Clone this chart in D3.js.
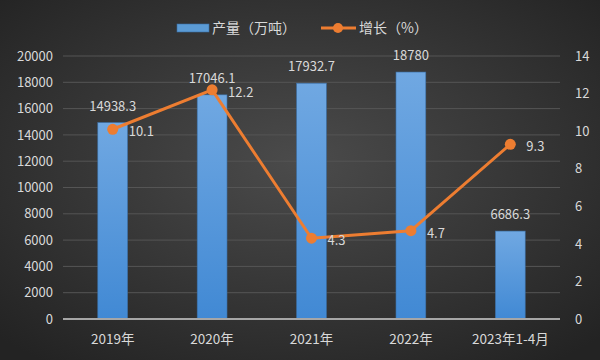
<!DOCTYPE html>
<html><head><meta charset="utf-8">
<script src="https://cdn.jsdelivr.net/npm/d3@7"></script>
<style>html,body{margin:0;padding:0;background:#2a2a2a;}svg{display:block;}</style>
</head><body>
<svg id="chart" width="600" height="360"></svg>
<script>
const categories = ["2019年", "2020年", "2021年", "2022年", "2023年1-4月"];
const output = [14938.3, 17046.1, 17932.7, 18780, 6686.3];
const growth = [10.1, 12.2, 4.3, 4.7, 9.3];
const leftTicks = [0, 2000, 4000, 6000, 8000, 10000, 12000, 14000, 16000, 18000, 20000];
const rightTicks = [0, 2, 4, 6, 8, 10, 12, 14];
const seriesNames = ["产量（万吨）", "增长（%）"];

const W = 600, H = 360;
const m = {left: 63, right: 40, top: 56, bottom: 41};
const svg = d3.select("#chart");
const font = "'Noto Sans CJK SC', 'Noto Sans', sans-serif";

const defs = svg.append("defs");
const bg = defs.append("radialGradient").attr("id", "bg").attr("cx", "50%").attr("cy", "45%").attr("r", "70%");
bg.append("stop").attr("offset", "0%").attr("stop-color", "#4b4b4b");
bg.append("stop").attr("offset", "100%").attr("stop-color", "#232323");
const bar = defs.append("linearGradient").attr("id", "bar").attr("x1", 0).attr("y1", 0).attr("x2", 0).attr("y2", 1);
bar.append("stop").attr("offset", "0%").attr("stop-color", "#70a8e2");
bar.append("stop").attr("offset", "100%").attr("stop-color", "#4189d4");

svg.append("rect").attr("width", W).attr("height", H).attr("fill", "url(#bg)");

const x = d3.scaleBand().domain(categories).range([m.left, W - m.right]).paddingInner(0.7).paddingOuter(0.35);
const yL = d3.scaleLinear().domain([0, 20000]).range([H - m.bottom, m.top]);
const yR = d3.scaleLinear().domain([0, 14]).range([H - m.bottom, m.top]);
const cx = d => x(d) + x.bandwidth() / 2;

// grid
svg.append("g").selectAll("line").data(leftTicks.slice(1)).join("line")
  .attr("x1", m.left).attr("x2", W - m.right)
  .attr("y1", d => yL(d)).attr("y2", d => yL(d))
  .attr("stroke", "#555555").attr("stroke-width", 1);

// left axis
const gL = svg.append("g").attr("transform", `translate(${m.left},0)`)
  .call(d3.axisLeft(yL).tickValues(leftTicks).tickSize(0).tickPadding(10).tickFormat(d3.format("d")));
gL.select(".domain").remove();
gL.selectAll("text").attr("fill", "#d9d9d9").style("font-size", "13px").style("font-family", font);

// right axis
const gR = svg.append("g").attr("transform", `translate(${W - m.right},0)`)
  .call(d3.axisRight(yR).tickValues(rightTicks).tickSize(0).tickPadding(15));
gR.select(".domain").remove();
gR.selectAll("text").attr("fill", "#d9d9d9").style("font-size", "13px").style("font-family", font);

// bars
svg.append("g").selectAll("rect").data(output).join("rect")
  .attr("x", (d, i) => x(categories[i]))
  .attr("y", d => yL(d))
  .attr("width", x.bandwidth())
  .attr("height", d => yL(0) - yL(d))
  .attr("fill", "url(#bar)")
  .attr("stroke", "#3b6fa6").attr("stroke-width", 0.6);

// baseline
svg.append("line").attr("x1", m.left).attr("x2", W - m.right)
  .attr("y1", yL(0)).attr("y2", yL(0)).attr("stroke", "#a6a6a6").attr("stroke-width", 2);

// bottom axis
const gB = svg.append("g").attr("transform", `translate(0,${H - m.bottom})`)
  .call(d3.axisBottom(x).tickSize(0).tickPadding(15));
gB.select(".domain").remove();
gB.selectAll("text").attr("fill", "#d9d9d9").style("font-size", "13.5px").style("font-family", font);

// bar labels
svg.append("g").selectAll("text").data(output).join("text")
  .attr("x", (d, i) => cx(categories[i]))
  .attr("y", d => yL(d) - 12)
  .attr("text-anchor", "middle")
  .attr("fill", "#d9d9d9").style("font-size", "13px").style("font-family", font)
  .text(d => d);

// line
const line = d3.line().x((d, i) => cx(categories[i])).y(d => yR(d));
svg.append("path").datum(growth).attr("d", line)
  .attr("fill", "none").attr("stroke", "#ed7d31").attr("stroke-width", 3).attr("stroke-linejoin", "round");
svg.append("g").selectAll("circle").data(growth).join("circle")
  .attr("cx", (d, i) => cx(categories[i])).attr("cy", d => yR(d)).attr("r", 5.5)
  .attr("fill", "#ed7d31");
svg.append("g").selectAll("text").data(growth).join("text")
  .attr("x", (d, i) => cx(categories[i]) + 16)
  .attr("y", d => yR(d) + 7)
  .attr("fill", "#d9d9d9").style("font-size", "13px").style("font-family", font)
  .text(d => d.toFixed(1));

// legend
const lg = svg.append("g");
lg.append("rect").attr("x", 177).attr("y", 24).attr("width", 32).attr("height", 8).attr("fill", "#5b9bd5").attr("stroke", "#3b6fa6").attr("stroke-width", 0.6);
lg.append("text").attr("x", 212).attr("y", 33).attr("fill", "#d9d9d9").style("font-size", "14px").style("font-family", font).text(seriesNames[0]);
lg.append("line").attr("x1", 321).attr("x2", 356).attr("y1", 28).attr("y2", 28).attr("stroke", "#ed7d31").attr("stroke-width", 3);
lg.append("circle").attr("cx", 338).attr("cy", 28).attr("r", 5).attr("fill", "#ed7d31");
lg.append("text").attr("x", 359).attr("y", 33).attr("fill", "#d9d9d9").style("font-size", "14px").style("font-family", font).text(seriesNames[1]);
</script>
</body></html>
